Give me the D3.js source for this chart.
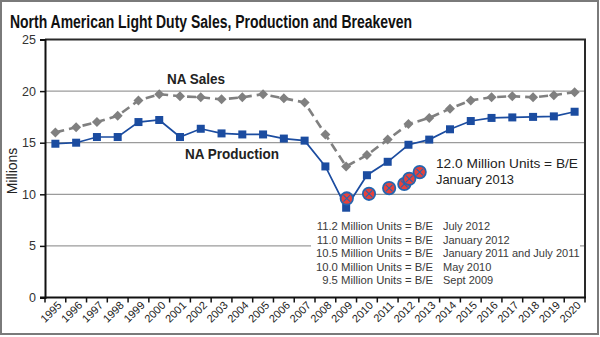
<!DOCTYPE html>
<html>
<head>
<meta charset="utf-8">
<script src="https://cdn.jsdelivr.net/npm/d3@7"></script>
<style>
  html, body { margin: 0; padding: 0; background: #fff; }
  svg { display: block; }
</style>
</head>
<body>
<div id="chart"></div>
<script>
// ---------------- data ----------------
const years = ["1995","1996","1997","1998","1999","2000","2001","2002","2003","2004","2005","2006","2007",
               "2008","2009","2010","2011","2012","2013","2014","2015","2016","2017","2018","2019","2020"];
const salesValues = [16.0,16.5,17.0,17.6,19.1,19.7,19.5,19.4,19.2,19.4,19.7,19.3,18.9,
                     15.8,12.7,13.8,15.3,16.8,17.4,18.3,19.1,19.4,19.5,19.4,19.6,19.9];
const productionValues = [14.9,15.0,15.55,15.55,17.0,17.2,15.55,16.35,15.9,15.8,15.8,15.4,15.2,
                          12.7,8.7,11.85,13.15,14.8,15.3,16.3,17.1,17.4,17.45,17.5,17.55,18.0];
// breakeven markers: time position (decimal year) and plotted level (millions)
const breakevenTime   = [2009.53, 2010.6, 2011.57, 2012.3, 2012.54, 2013.04];
const breakevenValues = [9.6, 10.05, 10.6, 11.0, 11.5, 12.15];
const yTicks = [0, 5, 10, 15, 20, 25];
const gridValues = [5, 10, 15, 20];
const breakevenNotes = [
  ["11.2 Million Units = B/E", "July 2012"],
  ["11.0 Million Units = B/E", "January 2012"],
  ["10.5 Million Units = B/E", "January 2011 and July 2011"],
  ["10.0 Million Units = B/E", "May 2010"],
  ["9.5 Million Units = B/E", "Sept 2009"]
];
const calloutLines = ["12.0 Million Units = B/E", "January 2013"];
const titleText = "North American Light Duty Sales, Production and Breakeven";

// ---------------- layout ----------------
const W = 600, H = 337;
const L = 45, R = 585, T = 39.5, B = 297.5;
const FONT = "'Liberation Sans', Arial, sans-serif";

const svg = d3.select("#chart").append("svg").attr("width", W).attr("height", H);

// outer frame
svg.append("rect").attr("x", 1).attr("y", 1).attr("width", W - 3).attr("height", H - 4)
  .attr("fill", "#fff").attr("stroke", "#7a7a7a").attr("stroke-width", 2);

const x = d3.scaleBand().domain(years).range([L, R]).padding(0);
const bw = x.bandwidth();
const cx = d => x(d) + bw / 2;
const xt = d3.scaleLinear().domain([+years[0], +years[years.length - 1] + 1]).range([L, R]);
const y = d3.scaleLinear().domain([0, 25]).range([B, T]);

// title
svg.append("text").attr("x", 10).attr("y", 28.3)
  .attr("font-family", "'Liberation Sans Narrow', 'Arial Narrow', " + FONT)
  .attr("font-weight", "bold").attr("font-size", 17.5).attr("fill", "#111")
  .attr("textLength", 402).attr("lengthAdjust", "spacingAndGlyphs")
  .text(titleText);

// gridlines
svg.append("g").selectAll("line").data(gridValues).join("line")
  .attr("x1", L).attr("x2", R).attr("y1", d => y(d)).attr("y2", d => y(d))
  .attr("stroke", "#9b9b9b").attr("stroke-width", 1.3);

// plot frame top + right
svg.append("line").attr("x1", L).attr("x2", R + 1).attr("y1", T).attr("y2", T)
  .attr("stroke", "#2a2a2a").attr("stroke-width", 2);
svg.append("line").attr("x1", R).attr("x2", R).attr("y1", T).attr("y2", B)
  .attr("stroke", "#2a2a2a").attr("stroke-width", 2);

// white box behind notes
svg.append("rect").attr("x", 311).attr("y", 218).attr("width", 269).attr("height", 70).attr("fill", "#fff");

// y axis
const yAxis = svg.append("g").attr("transform", `translate(${L},0)`)
  .call(d3.axisLeft(y).tickValues(yTicks).tickSize(5).tickPadding(4));
yAxis.select(".domain").attr("stroke", "#111").attr("stroke-width", 2);
yAxis.selectAll(".tick line").attr("stroke", "#111").attr("stroke-width", 1.5);
yAxis.selectAll(".tick text").attr("font-family", FONT).attr("font-size", 12.5).attr("fill", "#333");

// x axis
svg.append("line").attr("x1", L - 5).attr("x2", R + 1).attr("y1", B).attr("y2", B)
  .attr("stroke", "#111").attr("stroke-width", 2);
const xTickPos = years.map(d => x(d)).concat([R]);
svg.append("g").selectAll("line").data(xTickPos).join("line")
  .attr("x1", d => d).attr("x2", d => d).attr("y1", B).attr("y2", B + 5)
  .attr("stroke", "#111").attr("stroke-width", 1.5);
svg.append("g").selectAll("text").data(years).join("text")
  .attr("transform", d => `translate(${cx(d) + 7},306) rotate(-45)`)
  .attr("text-anchor", "end").attr("font-family", FONT).attr("font-size", 11).attr("fill", "#222")
  .text(d => d);

// y axis title
svg.append("text").attr("transform", "translate(17,171) rotate(-90)")
  .attr("text-anchor", "middle").attr("font-family", FONT).attr("font-size", 14).attr("fill", "#222")
  .text("Millions");

// sales line
const salesColor = "#808080";
svg.append("path").datum(salesValues)
  .attr("d", d3.line().x((d, i) => cx(years[i])).y(d => y(d)))
  .attr("fill", "none").attr("stroke", salesColor).attr("stroke-width", 2.6)
  .attr("stroke-dasharray", "9,5");
svg.append("g").selectAll("path").data(salesValues).join("path")
  .attr("transform", (d, i) => `translate(${cx(years[i])},${y(d)})`)
  .attr("d", "M0,-5L5,0L0,5L-5,0Z").attr("fill", salesColor);

// production line
const prodColor = "#1b4ca0";
svg.append("path").datum(productionValues)
  .attr("d", d3.line().x((d, i) => cx(years[i])).y(d => y(d)))
  .attr("fill", "none").attr("stroke", prodColor).attr("stroke-width", 1.7);
svg.append("g").selectAll("rect").data(productionValues).join("rect")
  .attr("x", (d, i) => cx(years[i]) - 4).attr("y", d => y(d) - 4)
  .attr("width", 8).attr("height", 8).attr("fill", prodColor);

// breakeven markers
const be = svg.append("g").selectAll("g").data(breakevenValues).join("g")
  .attr("transform", (d, i) => `translate(${xt(breakevenTime[i])},${y(d)})`);
be.append("circle").attr("r", 6.2).attr("fill", "#e8413b").attr("stroke", "#2466b0").attr("stroke-width", 1.8);
be.append("path").attr("d", "M-3.3,-3.3L3.3,3.3M-3.3,3.3L3.3,-3.3")
  .attr("stroke", "#2466b0").attr("stroke-width", 1.1);

// series labels
svg.append("text").attr("x", 167).attr("y", 83.5).attr("font-family", FONT).attr("font-weight", "bold")
  .attr("font-size", 14).attr("fill", "#222").attr("textLength", 58).attr("lengthAdjust", "spacingAndGlyphs")
  .text("NA Sales");
svg.append("text").attr("x", 185).attr("y", 159).attr("font-family", FONT).attr("font-weight", "bold")
  .attr("font-size", 14).attr("fill", "#222").attr("textLength", 94).attr("lengthAdjust", "spacingAndGlyphs")
  .text("NA Production");

// callout
const calloutWidths = [142, 78];
svg.append("g").selectAll("text").data(calloutLines).join("text")
  .attr("x", 436).attr("y", (d, i) => 168 + i * 15.5)
  .attr("font-family", FONT).attr("font-size", 13.5).attr("fill", "#222")
  .attr("textLength", (d, i) => calloutWidths[i]).attr("lengthAdjust", "spacingAndGlyphs")
  .text(d => d);

// notes
const notes = svg.append("g").selectAll("g").data(breakevenNotes).join("g")
  .attr("transform", (d, i) => `translate(0,${230 + i * 13.5})`);
notes.append("text").attr("x", 433).attr("text-anchor", "end")
  .attr("font-family", FONT).attr("font-size", 11.3).attr("fill", "#3a3a3a").text(d => d[0]);
notes.append("text").attr("x", 443)
  .attr("font-family", FONT).attr("font-size", 11).attr("fill", "#3a3a3a").text(d => d[1]);
</script>
</body>
</html>
